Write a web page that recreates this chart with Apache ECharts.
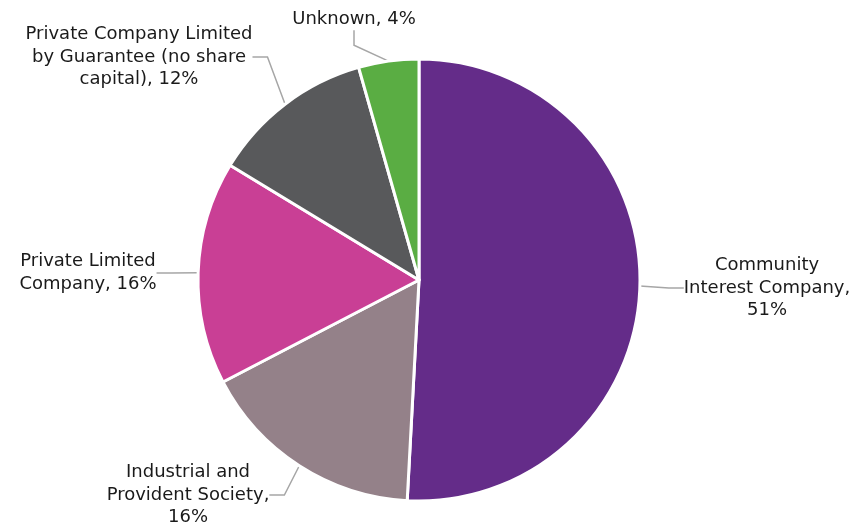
<!DOCTYPE html>
<html>
<head>
<meta charset="utf-8">
<script src="https://cdn.jsdelivr.net/npm/echarts@6/dist/echarts.min.js"></script>
<style>
  html, body { margin: 0; padding: 0; background: #fff; }
  #chart { width: 854px; height: 530px; }
</style>
</head>
<body>
<div id="chart"></div>
<script>
// 各类型占比
var categories = [
    'Community\nInterest Company,',
    'Industrial and\nProvident Society,',
    'Private Limited\nCompany,',
    'Private Company Limited\nby Guarantee (no share\ncapital),',
    'Unknown,'
];
var shares = [50.8, 16.5, 16.3, 11.9, 4.4];
var percentText = ['\n51%', '\n16%', ' 16%', ' 12%', ' 4%'];
var colors = ['#642c89', '#948189', '#c93f95', '#58595b', '#5aad43'];

// 标签中心位置
var labelPos = [
    [767, 288],
    [188, 495],
    [88, 273],
    [139, 57],
    [354, 19]
];

var pieData = [];
categories.forEach(function (name, i) {
    pieData.push({
        name: name,
        value: shares[i],
        itemStyle: { color: colors[i] }
    });
});

var mcharts = echarts.init(document.getElementById('chart'));

var option = {
    animation: false,
    textStyle: {
        fontFamily: ['DejaVu Sans', 'Verdana', 'sans-serif']
    },
    series: [
        {
            type: 'pie',
            center: [419, 280],
            radius: 221,
            startAngle: 90,
            clockwise: true,
            data: pieData,
            itemStyle: {
                borderColor: '#ffffff',
                borderWidth: 3
            },
            label: {
                show: true,
                position: 'outside',
                color: '#1a1a1a',
                fontSize: 18,
                lineHeight: 22.5,
                align: 'center',
                formatter: function (p) {
                    return p.name + percentText[p.dataIndex];
                }
            },
            labelLine: {
                show: true,
                length: 15,
                length2: 15,
                lineStyle: { color: '#a6a6a6', width: 1.5 }
            },
            labelLayout: function (params) {
                var pos = labelPos[params.dataIndex];
                return {
                    x: pos[0],
                    y: pos[1],
                    align: 'center',
                    verticalAlign: 'middle'
                };
            }
        }
    ]
};

mcharts.setOption(option, true);
</script>
</body>
</html>
